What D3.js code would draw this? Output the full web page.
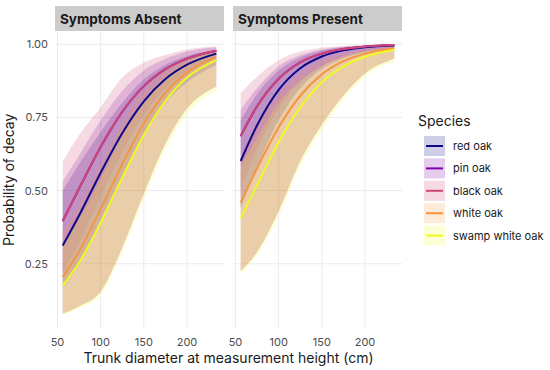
<!DOCTYPE html>
<html>
<head>
<meta charset="utf-8">
<script src="https://cdn.jsdelivr.net/npm/d3@7"></script>
<style>
  body { margin: 0; background: #fff; }
  svg { font-family: Inter, "Noto Sans", sans-serif; }
</style>
</head>
<body>
<svg id="chart"></svg>
<script>
let diam = [56, 75, 100, 125, 150, 175, 200, 234]
let species = ['red oak', 'pin oak', 'black oak', 'white oak', 'swamp white oak']
let colors = ['#0D0887', '#7E03A8', '#CC4678', '#F89441', '#F0F921']
let panels = ['Symptoms Absent', 'Symptoms Present']
let xTicks = [50, 100, 150, 200]
let yTicks = [0.25, 0.50, 0.75, 1.00]

// symptoms absent: fit, lower and upper bound, one row per species
let absentFit = [
    [0.312, 0.415, 0.561, 0.696, 0.805, 0.881, 0.930, 0.968],
    [0.396, 0.507, 0.649, 0.769, 0.857, 0.915, 0.951, 0.978],
    [0.396, 0.507, 0.649, 0.769, 0.857, 0.915, 0.951, 0.978],
    [0.205, 0.293, 0.437, 0.591, 0.730, 0.835, 0.904, 0.956],
    [0.175, 0.254, 0.389, 0.544, 0.690, 0.806, 0.886, 0.946]
]
let absentLo = [
    [0.17, 0.25, 0.40, 0.55, 0.69, 0.80, 0.87, 0.93],
    [0.08, 0.105, 0.155, 0.305, 0.49, 0.66, 0.78, 0.855],
    [0.22, 0.32, 0.48, 0.63, 0.76, 0.85, 0.91, 0.955],
    [0.078, 0.103, 0.155, 0.305, 0.49, 0.66, 0.78, 0.855],
    [0.075, 0.098, 0.143, 0.29, 0.47, 0.64, 0.762, 0.841]
]
let absentHi = [
    [0.50, 0.59, 0.70, 0.80, 0.88, 0.93, 0.96, 0.98],
    [0.531, 0.62, 0.74, 0.84, 0.91, 0.95, 0.975, 0.99],
    [0.599, 0.69, 0.785, 0.886, 0.937, 0.963, 0.982, 0.993],
    [0.36, 0.45, 0.59, 0.73, 0.84, 0.91, 0.95, 0.978],
    [0.32, 0.40, 0.54, 0.69, 0.81, 0.89, 0.94, 0.975]
]

// symptoms present
let presentFit = [
    [0.601, 0.723, 0.844, 0.918, 0.958, 0.979, 0.990, 0.996],
    [0.686, 0.788, 0.882, 0.938, 0.968, 0.984, 0.992, 0.997],
    [0.686, 0.788, 0.882, 0.938, 0.968, 0.984, 0.992, 0.997],
    [0.459, 0.576, 0.716, 0.824, 0.897, 0.942, 0.968, 0.986],
    [0.405, 0.519, 0.665, 0.784, 0.870, 0.924, 0.957, 0.981]
]
let presentLo = [
    [0.44, 0.58, 0.74, 0.85, 0.915, 0.952, 0.973, 0.988],
    [0.225, 0.29, 0.43, 0.60, 0.725, 0.825, 0.90, 0.95],
    [0.50, 0.64, 0.78, 0.87, 0.925, 0.958, 0.975, 0.99],
    [0.225, 0.29, 0.43, 0.60, 0.725, 0.825, 0.90, 0.95],
    [0.216, 0.278, 0.414, 0.584, 0.708, 0.81, 0.889, 0.94]
]
let presentHi = [
    [0.74, 0.83, 0.91, 0.955, 0.978, 0.99, 0.995, 0.998],
    [0.776, 0.85, 0.925, 0.962, 0.982, 0.991, 0.996, 0.999],
    [0.833, 0.889, 0.945, 0.975, 0.988, 0.994, 0.997, 0.999],
    [0.62, 0.72, 0.83, 0.90, 0.945, 0.968, 0.982, 0.992],
    [0.58, 0.68, 0.80, 0.875, 0.925, 0.957, 0.975, 0.988]
]

let width = 550
let height = 370
let panelLeft = [55, 233]
let panelW = 169
let plotTop = 31
let plotBottom = 328.5

let svg = d3.select('#chart').attr('width', width).attr('height', height)

// ggplot-like 5% expansion
let expand = (ext) => {
    let pad = (ext[1] - ext[0]) * 0.05
    return [ext[0] - pad, ext[1] + pad]
}
let allVals = [absentLo, absentHi, presentLo, presentHi].flat(2)
let yScale = d3.scaleLinear().domain(expand(d3.extent(allVals))).range([plotBottom, plotTop])

let panelData = [
    { fit: absentFit, lo: absentLo, hi: absentHi },
    { fit: presentFit, lo: presentLo, hi: presentHi }
]

panels.forEach((title, p) => {
    let x0 = panelLeft[p]
    let xScale = d3.scaleLinear().domain(expand(d3.extent(diam))).range([x0, x0 + panelW])
    let g = svg.append('g')

    // grid
    g.selectAll('.vgrid').data(xTicks).enter().append('line')
        .attr('x1', d => xScale(d)).attr('x2', d => xScale(d))
        .attr('y1', plotTop).attr('y2', plotBottom)
        .attr('stroke', '#ebebeb').attr('stroke-width', 1)
    g.selectAll('.hgrid').data(yTicks).enter().append('line')
        .attr('x1', x0).attr('x2', x0 + panelW)
        .attr('y1', d => yScale(d)).attr('y2', d => yScale(d))
        .attr('stroke', '#ebebeb').attr('stroke-width', 1)

    // strip
    g.append('rect').attr('x', x0).attr('y', 6).attr('width', panelW).attr('height', plotTop - 6)
        .attr('fill', '#cccccc')
    g.append('text').attr('x', x0 + 5).attr('y', 23.5)
        .attr('font-size', '13.5px').attr('font-weight', 700).attr('fill', '#1a1a1a')
        .text(title)

    let d = panelData[p]
    let area = d3.area().x((v, i) => xScale(diam[i]))
        .y0(v => yScale(v[0])).y1(v => yScale(v[1]))
        .curve(d3.curveMonotoneX)
    let line = d3.line().x((v, i) => xScale(diam[i])).y(v => yScale(v))
        .curve(d3.curveMonotoneX)

    species.forEach((s, k) => {
        g.append('path')
            .datum(d3.zip(d.lo[k], d.hi[k]))
            .attr('d', area)
            .attr('fill', colors[k]).attr('fill-opacity', 0.2)
    })
    species.forEach((s, k) => {
        g.append('path')
            .datum(d.fit[k])
            .attr('d', line)
            .attr('fill', 'none').attr('stroke', colors[k]).attr('stroke-width', 2)
    })

    // x axis labels
    g.selectAll('.xlab').data(xTicks).enter().append('text')
        .attr('x', d => xScale(d)).attr('y', 346)
        .attr('text-anchor', 'middle').attr('font-size', '11px').attr('fill', '#4d4d4d')
        .text(d => d)
})

// y axis labels
svg.selectAll('.ylab').data(yTicks).enter().append('text')
    .attr('x', 48).attr('y', d => yScale(d) + 4)
    .attr('text-anchor', 'end').attr('font-size', '11px').attr('fill', '#4d4d4d')
    .text(d => d3.format('.2f')(d))

svg.append('text')
    .attr('transform', 'translate(14,' + ((plotTop + plotBottom) / 2) + ') rotate(-90)')
    .attr('text-anchor', 'middle').attr('font-size', '14px').attr('fill', '#1a1a1a')
    .text('Probability of decay')

svg.append('text')
    .attr('x', (panelLeft[0] + panelLeft[1] + panelW) / 2).attr('y', 363)
    .attr('text-anchor', 'middle').attr('font-size', '14px').attr('fill', '#1a1a1a')
    .text('Trunk diameter at measurement height (cm)')

// legend
let legend = svg.append('g')
legend.append('text').attr('x', 418).attr('y', 126)
    .attr('font-size', '14px').attr('fill', '#1a1a1a').text('Species')
species.forEach((s, k) => {
    let y = 136 + k * 22.4
    legend.append('rect').attr('x', 424).attr('y', y).attr('width', 21).attr('height', 20)
        .attr('fill', colors[k]).attr('fill-opacity', 0.2)
    legend.append('line').attr('x1', 426).attr('x2', 443).attr('y1', y + 10).attr('y2', y + 10)
        .attr('stroke', colors[k]).attr('stroke-width', 2)
    legend.append('text').attr('x', 453).attr('y', y + 14)
        .attr('font-size', '11px').attr('fill', '#1a1a1a').text(s)
})
</script>
</body>
</html>
